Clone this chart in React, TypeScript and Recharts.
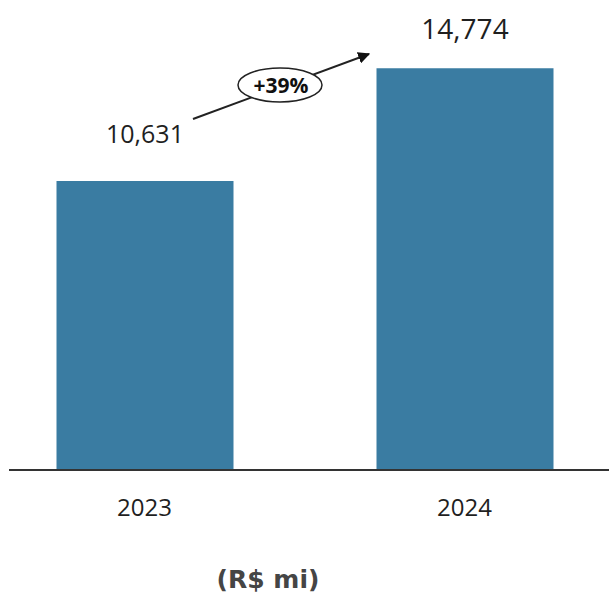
import React from 'react';
import { BarChart, Bar, XAxis, YAxis, LabelList } from 'recharts';

// Revenue in R$ millions
const years = ['2023', '2024'];
const revenue = [10631, 14774];

const data = years.map((year, i) => ({ year, value: revenue[i] }));

const growth = Math.round((revenue[1] / revenue[0] - 1) * 100);

const colors = {
  bar: '#3A7CA2',
  axis: '#333333',
  text: '#1f1f1f',
  title: '#454545',
};

const labelGap = [38, 29];
const labelSize = [25, 28];

const YearTick = (props: any) => {
  const { x, y, payload } = props;
  return (
    <text
      x={x}
      y={y + 44}
      textAnchor="middle"
      fontFamily="'Open Sans', sans-serif"
      fontSize={24}
      fill={colors.text}
    >
      {payload.value}
    </text>
  );
};

const ValueLabel = (props: any) => {
  const { x, y, width, value, index } = props;
  return (
    <text
      x={x + width / 2}
      y={y - labelGap[index]}
      textAnchor="middle"
      fontFamily="'Open Sans', sans-serif"
      fontSize={labelSize[index]}
      fill={colors.text}
    >
      {value.toLocaleString('en-US')}
    </text>
  );
};

const App: React.FC = () => {
  return (
    <div
      style={{
        position: 'absolute',
        left: 0,
        top: 0,
        width: 609,
        height: 594,
        overflow: 'hidden',
        background: '#fff',
      }}
    >
      <BarChart
        width={609}
        height={594}
        data={data}
        margin={{ top: 35, right: 0, left: 9, bottom: 94 }}
      >
        <XAxis
          dataKey="year"
          height={30}
          padding={{ left: -24.5, right: -15.5 }}
          axisLine={{ stroke: colors.axis, strokeWidth: 2 }}
          tickLine={false}
          tickSize={0}
          tick={<YearTick />}
        />
        <YAxis hide domain={[0, 16000]} />
        <Bar dataKey="value" fill={colors.bar} barSize={177} isAnimationActive={false}>
          <LabelList dataKey="value" content={<ValueLabel />} />
        </Bar>
      </BarChart>

      {/* growth annotation and unit note */}
      <svg
        width={609}
        height={594}
        style={{ position: 'absolute', left: 0, top: 0, pointerEvents: 'none' }}
      >
        <defs>
          <marker
            id="head"
            viewBox="0 0 10 10"
            refX="9"
            refY="5"
            markerWidth="6"
            markerHeight="6"
            orient="auto"
          >
            <path d="M0,0 L10,5 L0,10 z" fill="#111" />
          </marker>
        </defs>
        <line
          x1={193}
          y1={119}
          x2={369}
          y2={54}
          stroke="#222"
          strokeWidth={2}
          markerEnd="url(#head)"
        />
        <ellipse cx={280} cy={85} rx={42} ry={17} fill="#fff" stroke="#222" strokeWidth={1.5} />
        <text
          x={281}
          y={93}
          textAnchor="middle"
          fontFamily="'Open Sans', sans-serif"
          fontWeight="bold"
          fontSize={21}
          fill="#111"
        >
          {`+${growth}%`}
        </text>
        <text
          x={268}
          y={588}
          textAnchor="middle"
          fontFamily="'DejaVu Sans', sans-serif"
          fontWeight="bold"
          fontSize={25}
          fill={colors.title}
        >
          (R$ mi)
        </text>
      </svg>
    </div>
  );
};

export default App;
